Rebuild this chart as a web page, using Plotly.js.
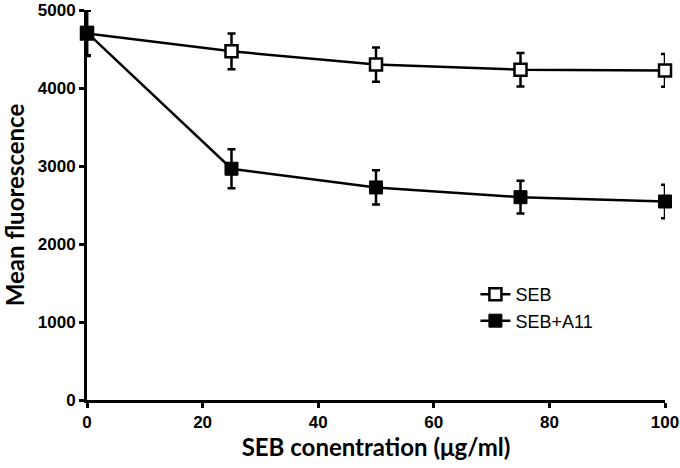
<!DOCTYPE html>
<html><head><meta charset="utf-8">
<script src="https://cdn.plot.ly/plotly-3.0.1.min.js"></script>
<style>body{margin:0;background:#fff}#c{width:680px;height:468px}</style>
</head><body><div id="c"></div>
<script>
const conc = [0, 25, 50, 75, 100];
const sebMean = [4700, 4470, 4300, 4235, 4225];
const sebErr = [290, 230, 220, 215, 210];
const a11Mean = [4710, 2965, 2725, 2600, 2545];
const a11Err = [290, 250, 220, 210, 215];
const xTicks = [0, 20, 40, 60, 80, 100];
const yTicks = [0, 1000, 2000, 3000, 4000, 5000];

const common = {
  type: 'scatter', mode: 'lines+markers', x: conc, cliponaxis: false,
  line: {color: '#000', width: 2.5}
};
const traces = [
  Object.assign({}, common, {
    name: 'SEB', y: sebMean,
    error_y: {type: 'data', array: sebErr, visible: true, color: '#000', thickness: 2.5, width: 4},
    marker: {symbol: 'square', size: 12, color: '#fff', line: {color: '#000', width: 2.5}}
  }),
  Object.assign({}, common, {
    name: 'SEB+A11', y: a11Mean,
    error_y: {type: 'data', array: a11Err, visible: true, color: '#000', thickness: 2.5, width: 4},
    marker: {symbol: 'square', size: 13, color: '#000', line: {color: '#000', width: 1}}
  })
];
const tickFont = {family: 'Liberation Sans, Arial, sans-serif', size: 17, color: '#000'};
const titleFont = {family: 'Lato, Open Sans, sans-serif', size: 24, color: '#000'};
const layout = {
  width: 680, height: 468,
  margin: {l: 87, r: 15, t: 10, b: 68},
  paper_bgcolor: '#fff', plot_bgcolor: '#fff',
  showlegend: true,
  legend: {x: 0.672, y: 0.237, xanchor: 'left', yanchor: 'middle', bgcolor: 'rgba(0,0,0,0)',
           font: {family: 'Liberation Sans, Arial, sans-serif', size: 18, color: '#000'}},
  xaxis: {
    range: [0, 100], tickvals: xTicks, ticktext: xTicks.map(v => '<b>' + v + '</b>'),
    showgrid: false, zeroline: false, showline: true, linecolor: '#000', linewidth: 3,
    ticks: 'outside', ticklen: 5, tickwidth: 3, tickcolor: '#000', tickfont: tickFont,
    ticklabeloverflow: 'allow',
    title: {text: '<b>SEB conentration (μg/ml)</b>', standoff: 4, font: titleFont}
  },
  yaxis: {
    range: [0, 5000], tickvals: yTicks, ticktext: yTicks.map(v => '<b>' + v + '</b>'),
    showgrid: false, zeroline: false, showline: true, linecolor: '#000', linewidth: 3,
    ticks: 'outside', ticklen: 5, tickwidth: 3, tickcolor: '#000', tickfont: tickFont,
    ticklabeloverflow: 'allow',
    title: {text: '<b>Mean fluorescence</b>', standoff: 8, font: titleFont}
  }
};
Plotly.newPlot('c', traces, layout, {displayModeBar: false, staticPlot: true});
</script></body></html>
